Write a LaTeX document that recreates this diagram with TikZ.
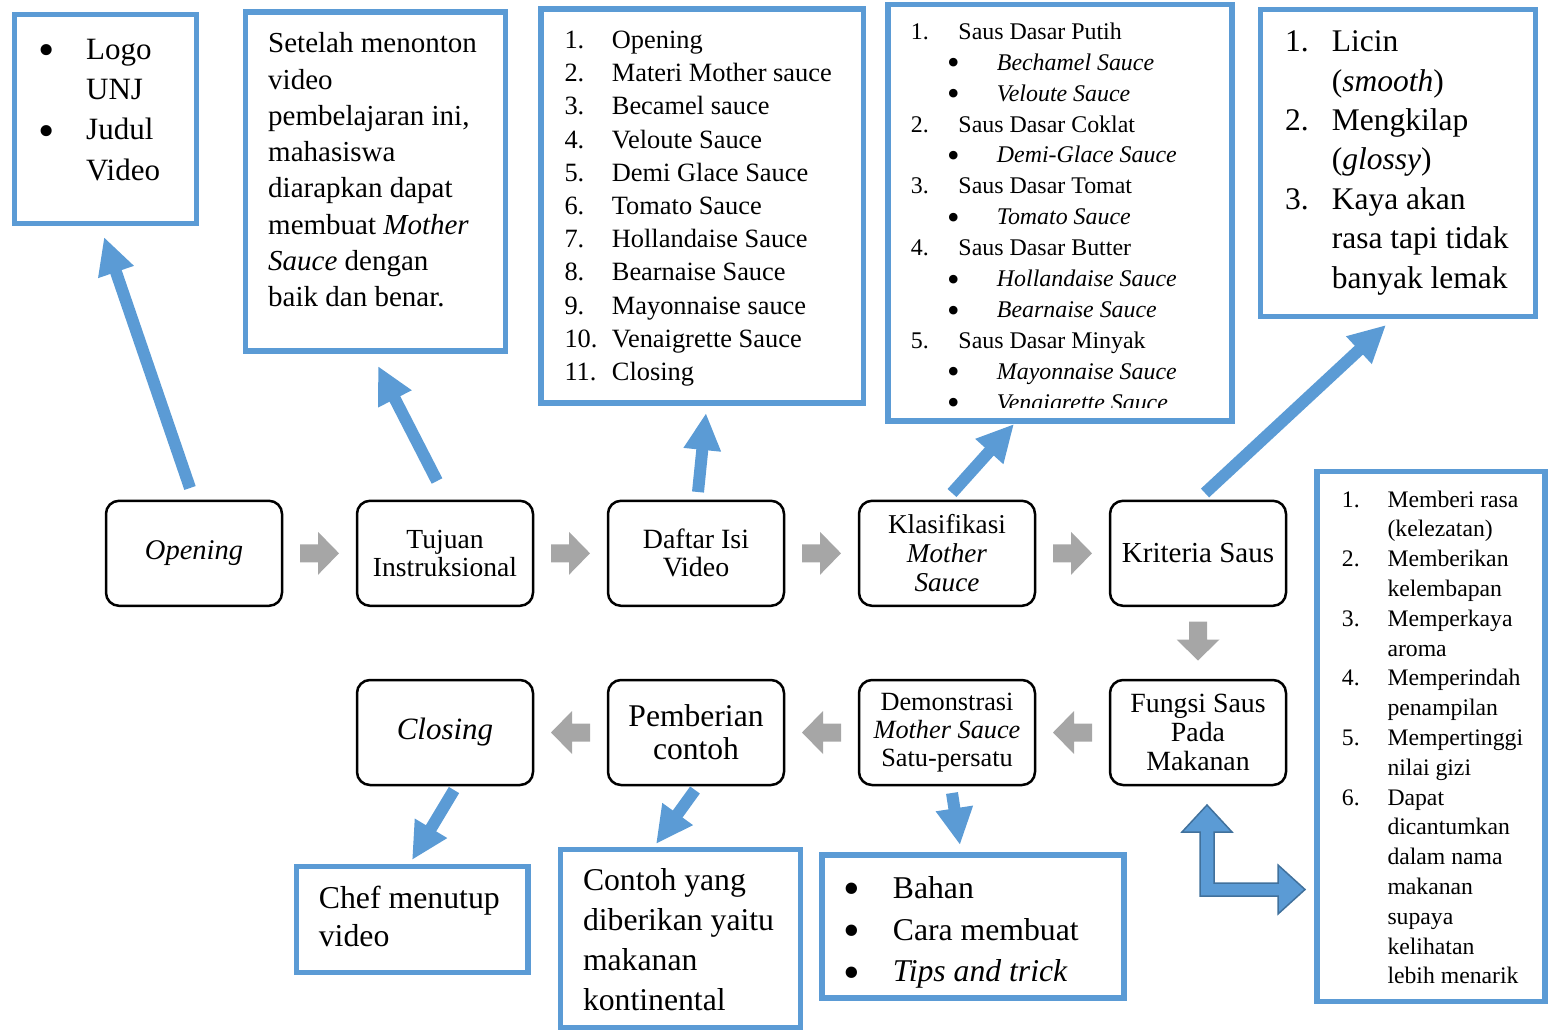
\documentclass[tikz,border=0pt]{standalone}
\usepackage{fontspec}
\setmainfont{Liberation Serif}
\usepackage{graphicx}
\usetikzlibrary{arrows.meta}
\definecolor{bblue}{HTML}{5B9BD5}
\definecolor{bdark}{HTML}{41719C}
\definecolor{garr}{HTML}{A6A6A6}
\newcommand{\bul}{\raisebox{-0.2em}{\scalebox{1.5}{\textbullet}}}
\newcommand{\fs}[2]{\fontsize{#1pt}{#2pt}\selectfont}
\newcommand{\grayarrow}[3]{\fill[garr, shift={(#1,#2)}, rotate=#3]
 (-19.5,-9) -- (-1.5,-9) -- (-1.5,-21.5) -- (19.5,0) -- (-1.5,21.5) -- (-1.5,9) -- (-19.5,9) -- cycle;}
\begin{document}
\begin{tikzpicture}[x=1pt,y=-1pt,
 stage/.style={draw=black, line width=2.5pt, rounded corners=13pt, minimum width=176pt, minimum height=105pt, align=center, inner sep=0pt},
 bluebox/.style={draw=bblue, line width=5.5pt, inner sep=0pt, fill=white},
 listtext/.style={anchor=base west, inner sep=0pt},
 bluearrow/.style={draw=bblue, line width=12pt, -{Triangle[length=37pt,width=35pt]}},
]
\useasboundingbox (0,0) rectangle (1548,1031);

% stage boxes
\node[stage, font=\fs{28.5}{29}\itshape] (open) at (194,553.3) {Opening};
\node[stage, font=\fs{27.6}{28}] (tujuan) at (445,553.3) {Tujuan\\Instruksional};
\node[stage, font=\fs{27.9}{28}] (daftar) at (696,553.3) {Daftar Isi\\Video};
\node[stage, font=\fs{27.2}{29}] (klas) at (947,553.3) {Klasifikasi\\\textit{Mother}\\\textit{Sauce}};
\node[stage, font=\fs{29}{29}] (krit) at (1198,553.3) {Kriteria Saus};
\node[stage, font=\fs{31}{31}\itshape] (closing) at (445,732.5) {Closing};
\node[stage, font=\fs{31.6}{33}] (pemb) at (696,732.5) {Pemberian\\contoh};
\node[stage, font=\fs{26.3}{28}] (demo) at (947,732.5) {Demonstrasi\\\textit{Mother Sauce}\\Satu-persatu};
\node[stage, font=\fs{27.8}{29}] (fungsi) at (1198,732.5) {Fungsi Saus\\Pada\\Makanan};

% gray flow arrows (block arrows)
\grayarrow{319.5}{553.3}{0}
\grayarrow{570.5}{553.3}{0}
\grayarrow{821.5}{553.3}{0}
\grayarrow{1072.5}{553.3}{0}
\grayarrow{1198}{641}{-90}
\grayarrow{1072.5}{732.5}{180}
\grayarrow{821.5}{732.5}{180}
\grayarrow{570.5}{732.5}{180}

% blue arrows
\coordinate (a1s) at (190,488);  \coordinate (a1t) at (104,237);
\coordinate (a2s) at (437,481);  \coordinate (a2t) at (378,366);
\coordinate (a3s) at (698,492);  \coordinate (a3t) at (706,413);
\coordinate (a4s) at (952,493);  \coordinate (a4t) at (1014,424);
\coordinate (a5s) at (1205,493); \coordinate (a5t) at (1386,325);
\coordinate (a6s) at (454,790);  \coordinate (a6t) at (412,860);
\coordinate (a7s) at (695,790);  \coordinate (a7t) at (656,844);
\coordinate (a8s) at (952,793);  \coordinate (a8t) at (960,845);
\foreach \i in {1,...,8} {\draw[bluearrow] (a\i s) -- (a\i t);}

% elbow double arrow
\draw[fill=bblue, draw=bdark, line width=1.5pt, line join=miter]
 (1207,805) -- (1232,832) -- (1214,832) -- (1214,883) -- (1278,883) -- (1278,865)
 -- (1305,889.5) -- (1278,914) -- (1278,896) -- (1200,896) -- (1200,832) -- (1182,832) -- cycle;

% blue boxes
\node[bluebox, minimum width=182pt, minimum height=209pt] (logobox) at (105.5,119) {};
\node[bluebox, minimum width=260pt, minimum height=339pt] (tujbox) at (375.5,181.5) {};
\node[bluebox, minimum width=322.5pt, minimum height=394pt] (daftarbox) at (702.2,206) {};
\node[bluebox, minimum width=344pt, minimum height=416.5pt] (klasbox) at (1060,212.7) {};
\node[bluebox, minimum width=275pt, minimum height=307pt] (licinbox) at (1398,163) {};
\node[bluebox, minimum width=228pt, minimum height=530pt] (fungsibox) at (1431,736.5) {};
\node[bluebox, minimum width=231.5pt, minimum height=106pt] (chefbox) at (412.2,919.5) {};
\node[bluebox, minimum width=240pt, minimum height=178pt] (contohbox) at (680.6,938.4) {};
\node[bluebox, minimum width=302pt, minimum height=143pt] (bahanbox) at (973,926.4) {};

% box texts
\node[listtext] (logotext) at (38,59.3) {\fs{31}{40.3}\begin{tabular}[t]{@{}p{48pt}@{}l@{}}
\bul & Logo\\ & UNJ\\ \bul & Judul\\ & Video\end{tabular}};

\node[listtext] (tujtext) at (268,52.7) {\fs{29}{36.3}\begin{tabular}[t]{@{}l@{}}
Setelah menonton\\ video\\ pembelajaran ini,\\ mahasiswa\\ diarapkan dapat\\
membuat \textit{Mother}\\ \textit{Sauce} dengan\\ baik dan benar.\end{tabular}};

\node[listtext] (daftartext) at (564.3,48.5) {\fs{26.4}{33.2}\begin{tabular}[t]{@{}p{47.4pt}@{}l@{}}
1. & Opening\\ 2. & Materi Mother sauce\\ 3. & Becamel sauce\\ 4. & Veloute Sauce\\
5. & Demi Glace Sauce\\ 6. & Tomato Sauce\\ 7. & Hollandaise Sauce\\ 8. & Bearnaise Sauce\\
9. & Mayonnaise sauce\\ 10. & Venaigrette Sauce\\ 11. & Closing\end{tabular}};

\begin{scope}
\clip (888,0) rectangle (1232,407.5);
\node[listtext] (klastext) at (910.7,39.3) {\fs{23.9}{30.9}\begin{tabular}[t]{@{}p{36.3pt}@{}p{11.3pt}@{}p{38.4pt}@{}l@{}}
1. & & \multicolumn{2}{@{}l@{}}{Saus Dasar Putih}\\
 & \bul & & \textit{Bechamel Sauce}\\
 & \bul & & \textit{Veloute Sauce}\\
2. & & \multicolumn{2}{@{}l@{}}{Saus Dasar Coklat}\\
 & \bul & & \textit{Demi-Glace Sauce}\\
3. & & \multicolumn{2}{@{}l@{}}{Saus Dasar Tomat}\\
 & \bul & & \textit{Tomato Sauce}\\
4. & & \multicolumn{2}{@{}l@{}}{Saus Dasar Butter}\\
 & \bul & & \textit{Hollandaise Sauce}\\
 & \bul & & \textit{Bearnaise Sauce}\\
5. & & \multicolumn{2}{@{}l@{}}{Saus Dasar Minyak}\\
 & \bul & & \textit{Mayonnaise Sauce}\\
 & \bul & & \textit{Venaigrette Sauce}\end{tabular}};
\end{scope}

\node[listtext] (licintext) at (1285,51.7) {\fs{31.5}{39.4}\begin{tabular}[t]{@{}p{46.7pt}@{}l@{}}
1. & Licin\\ & (\textit{smooth})\\ 2. & Mengkilap\\ & (\textit{glossy})\\
3. & Kaya akan\\ & rasa tapi tidak\\ & banyak lemak\end{tabular}};

\node[listtext] (fungsitext) at (1341.7,507) {\fs{23.7}{29.8}\begin{tabular}[t]{@{}p{45.6pt}@{}l@{}}
1. & Memberi rasa\\ & (kelezatan)\\ 2. & Memberikan\\ & kelembapan\\
3. & Memperkaya\\ & aroma\\ 4. & Memperindah\\ & penampilan\\
5. & Mempertinggi\\ & nilai gizi\\ 6. & Dapat\\ & dicantumkan\\ & dalam nama\\
 & makanan\\ & supaya\\ & kelihatan\\ & lebih menarik\end{tabular}};

\node[listtext] (cheftext) at (318.6,908.3) {\fs{31.8}{38.4}\begin{tabular}[t]{@{}l@{}}
Chef menutup\\ video\end{tabular}};

\node[listtext] (contohtext) at (582.8,890) {\fs{31.7}{40}\begin{tabular}[t]{@{}l@{}}
Contoh yang\\ diberikan yaitu\\ makanan\\ kontinental\end{tabular}};

\node[listtext] (bahantext) at (843.4,898.3) {\fs{31.7}{41.7}\begin{tabular}[t]{@{}p{49.3pt}@{}l@{}}
\bul & Bahan\\ \bul & Cara membuat\\ \bul & \textit{Tips and trick}\end{tabular}};
\end{tikzpicture}
\end{document}
